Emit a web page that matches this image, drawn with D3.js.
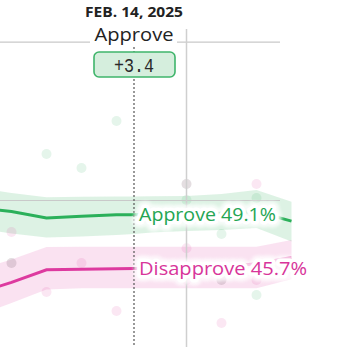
<!DOCTYPE html>
<html><head><meta charset="utf-8">
<script src="https://cdn.jsdelivr.net/npm/d3@7"></script>
<style>
html,body{margin:0;padding:0;background:#fff;}
svg{display:block;}
</style></head>
<body>
<svg id="chart" width="356" height="347"></svg>
<script>
// ---------- data ----------
const dates = ["2025-01-06","2025-01-10","2025-01-20","2025-01-30","2025-02-09","2025-02-14","2025-02-19","2025-03-01","2025-03-11","2025-03-21","2025-03-31"];
const approve      = [49.4, 49.3, 48.9, 49.0, 49.1, 49.1, 49.1, 49.1, 49.2, 49.3, 48.7];
const approveHi    = [50.6, 50.47, 50.2, 50.23, 50.25, 50.25, 50.27, 50.28, 50.41, 50.66, 49.92];
const approveLo    = [48.05, 47.92, 47.66, 47.73, 47.82, 47.88, 47.98, 48.07, 48.14, 48.26, 47.41];
const disapprove   = [44.55, 44.83, 45.62, 45.66, 45.69, 45.7, 45.7, 45.7, 45.8, 46.0, 46.4];
const disapproveHi = [46.0, 46.27, 47.06, 47.08, 47.08, 47.08, 47.08, 47.08, 47.08, 47.08, 47.5];
const disapproveLo = [43.2, 43.53, 44.38, 44.45, 44.45, 44.45, 44.45, 44.45, 44.45, 44.45, 45.02];

const pollDates   = ["2025-01-10","2025-01-20","2025-01-30","2025-02-09","2025-03-01","2025-03-01","2025-03-11","2025-03-11","2025-03-21","2025-03-21"];
const pollApprove = [46.05, 52.94, 52.05, 55.02, 50.03, 51.04, 47.88, 44.98, 50.16, 44.03];
const pollDisDates = ["2025-01-10","2025-01-10","2025-01-20","2025-01-30","2025-02-09","2025-03-01","2025-03-01","2025-03-01","2025-03-11","2025-03-11","2025-03-21","2025-03-21"];
const pollDisapprove = [48.01, 46.05, 44.22, 46.05, 43.02, 51.04, 46.98, 44.98, 44.98, 42.26, 51.04, 44.98];

const yTicks = [50, 60];
const cursorDate = "2025-02-14";
const refDate = "2025-03-01";
const cursorLabel = "FEB. 14, 2025";
const leaderLabel = "Approve";
const marginLabel = "+3.4";
const approveLabel = "Approve 49.1%";
const disapproveLabel = "Disapprove 45.7%";

// ---------- setup ----------
const parse = d3.utcParse("%Y-%m-%d");
const green = "#2bb05a", pink = "#dd3a9f";
const svg = d3.select("#chart");

const defs = svg.append("defs");
const f = defs.append("filter").attr("id", "halo").attr("x", "-10%").attr("y", "-50%").attr("width", "120%").attr("height", "200%");
f.append("feGaussianBlur").attr("stdDeviation", 1.5);

const x = d3.scaleUtc()
  .domain([parse(cursorDate), parse(refDate)])
  .range([134, 186.5]);
const y = d3.scaleLinear().domain([50, 60]).range([200.5, 42.2]);

const rows = dates.map((d, i) => ({
  date: parse(d), a: approve[i], aHi: approveHi[i], aLo: approveLo[i],
  d: disapprove[i], dHi: disapproveHi[i], dLo: disapproveLo[i]
}));

// bands
const areaA = d3.area().x(r => x(r.date)).y0(r => y(r.aLo)).y1(r => y(r.aHi));
const areaD = d3.area().x(r => x(r.date)).y0(r => y(r.dLo)).y1(r => y(r.dHi));
svg.append("path").attr("d", areaA(rows)).attr("fill", green).attr("fill-opacity", 0.16);
svg.append("path").attr("d", areaD(rows)).attr("fill", pink).attr("fill-opacity", 0.15);

// poll dots
svg.append("g").selectAll("circle").data(pollDates.map((d, i) => ({date: parse(d), v: pollApprove[i]})))
  .join("circle")
  .attr("cx", d => x(d.date)).attr("cy", d => y(d.v)).attr("r", 5)
  .attr("fill", green).attr("fill-opacity", 0.12);
svg.append("g").selectAll("circle").data(pollDisDates.map((d, i) => ({date: parse(d), v: pollDisapprove[i]})))
  .join("circle")
  .attr("cx", d => x(d.date)).attr("cy", d => y(d.v)).attr("r", 5)
  .attr("fill", pink).attr("fill-opacity", 0.12);

// gridlines
svg.append("g").selectAll("line").data(yTicks).join("line")
  .attr("x1", 0).attr("x2", 280)
  .attr("y1", d => y(d)).attr("y2", d => y(d))
  .attr("stroke", "#c9c9c9").attr("stroke-width", 1.2);

// reference vertical line
svg.append("line")
  .attr("x1", x(parse(refDate))).attr("x2", x(parse(refDate)))
  .attr("y1", 29).attr("y2", 347)
  .attr("stroke", "#cfcfcf").attr("stroke-width", 1.5);

// trend lines
const lineA = d3.line().x(r => x(r.date)).y(r => y(r.a));
const lineD = d3.line().x(r => x(r.date)).y(r => y(r.d));
svg.append("path").attr("d", lineA(rows)).attr("fill", "none").attr("stroke", green).attr("stroke-width", 3);
svg.append("path").attr("d", lineD(rows)).attr("fill", "none").attr("stroke", pink).attr("stroke-width", 3);

// cursor dashed line
const cx = x(parse(cursorDate));
svg.append("line")
  .attr("x1", cx).attr("x2", cx).attr("y1", 47).attr("y2", 347)
  .attr("stroke", "#555").attr("stroke-width", 1.2).attr("stroke-dasharray", "2,2");

// top labels
svg.append("text").attr("x", cx).attr("y", 17).attr("text-anchor", "middle")
  .attr("font-family", "'Open Sans', Lato, sans-serif").attr("font-weight", 700)
  .attr("font-size", 14.5).attr("fill", "#222")
  .attr("textLength", 98).attr("lengthAdjust", "spacingAndGlyphs").text(cursorLabel);

svg.append("rect").attr("x", 90).attr("y", 26).attr("width", 87).attr("height", 20).attr("fill", "#fff");
svg.append("text").attr("x", cx).attr("y", 41).attr("text-anchor", "middle")
  .attr("font-family", "'Open Sans', Lato, sans-serif")
  .attr("font-size", 18).attr("fill", "#222")
  .attr("textLength", 79).attr("lengthAdjust", "spacingAndGlyphs").text(leaderLabel);

svg.append("rect").attr("x", 94).attr("y", 52).attr("width", 81).attr("height", 25).attr("rx", 5)
  .attr("fill", "#d5eedd").attr("stroke", "#3fb56b").attr("stroke-width", 1.6);
svg.append("text").attr("x", cx).attr("y", 72).attr("text-anchor", "middle")
  .attr("font-family", "'Liberation Mono', 'DejaVu Sans Mono', monospace")
  .attr("font-size", 20).attr("fill", "#2a2a2a")
  .attr("textLength", 40).attr("lengthAdjust", "spacingAndGlyphs").text(marginLabel);

// end labels with soft halo
function endLabel(txt, yv, color, len) {
  const g = svg.append("g");
  const base = sel => sel.attr("x", cx + 5).attr("y", y(yv)).attr("dy", "0.36em")
    .attr("font-family", "'Open Sans', Lato, sans-serif").attr("font-size", 18.5)
    .attr("textLength", len).attr("lengthAdjust", "spacingAndGlyphs").text(txt);
  g.append("text").call(base)
    .attr("fill", "#fff").attr("stroke", "#fff").attr("stroke-width", 13)
    .attr("stroke-linejoin", "round").attr("filter", "url(#halo)").attr("opacity", 0.75);
  g.append("text").call(base)
    .attr("fill", "#fff").attr("stroke", "#fff").attr("stroke-width", 7)
    .attr("stroke-linejoin", "round");
  g.append("text").call(base).attr("fill", color);
}
endLabel(approveLabel, 49.1, "#24a553", 137);
endLabel(disapproveLabel, 45.7, "#d8359a", 168);
</script>
</body></html>
